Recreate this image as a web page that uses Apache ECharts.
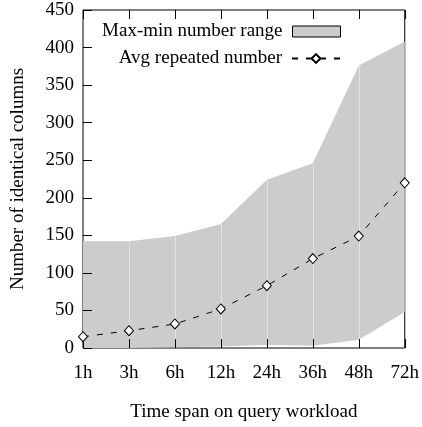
<!DOCTYPE html>
<html>
<head>
<meta charset="utf-8">
<script src="https://cdn.jsdelivr.net/npm/echarts@6/dist/echarts.min.js"></script>
<style>html,body{margin:0;padding:0;background:#fff}#c{width:422px;height:427px}</style>
</head>
<body>
<div id="c"></div>
<script>
var categories = ['1h', '3h', '6h', '12h', '24h', '36h', '48h', '72h'];
var maxVals = [142, 142, 149, 165, 224, 246, 376, 408];
var minVals = [0, 0, 1, 2, 4, 3, 11, 48];
var avgVals = [15, 23, 32, 52, 83, 119, 149, 220];
var yTicks = [0, 50, 100, 150, 200, 250, 300, 350, 400, 450];

var rangeVals = maxVals.map(function (v, i) { return v - minVals[i]; });
var seams = [];
for (var i = 1; i < categories.length - 1; i++) {
  seams.push([{ coord: [categories[i], minVals[i]] }, { coord: [categories[i], maxVals[i]] }]);
}
var FONT = '"Liberation Serif", "Times New Roman", serif';

var chart = echarts.init(document.getElementById('c'), null, { renderer: 'canvas' });
chart.setOption({
  animation: false,
  backgroundColor: '#fff',
  textStyle: { fontFamily: FONT, color: '#000' },
  grid: { left: 83, right: 15, top: 10, bottom: 77, show: true, borderColor: '#000', borderWidth: 1, backgroundColor: 'transparent' },
  legend: [{
    right: 76, top: 17, align: 'right', itemWidth: 48, itemHeight: 11, itemGap: 8,
    textStyle: { fontFamily: FONT, fontSize: 19, color: '#000', padding: [0, 5, 0, 0] },
    data: [{ name: 'Max-min number range', icon: 'rect', itemStyle: { color: '#cccccc', borderColor: '#000', borderWidth: 1 } }]
  }, {
    right: 76, top: 44, align: 'right', itemWidth: 48, itemHeight: 11,
    textStyle: { fontFamily: FONT, fontSize: 19, color: '#000', padding: [0, 5, 0, 0] },
    data: ['Avg repeated number']
  }],
  xAxis: [{
    type: 'category', data: categories, boundaryGap: false, z: 5,
    name: 'Time span on query workload', nameLocation: 'middle', nameGap: 55,
    nameTextStyle: { fontFamily: FONT, fontSize: 19, color: '#000' },
    axisLine: { show: false },
    axisTick: { show: true, inside: true, length: 9, lineStyle: { color: '#000' } },
    axisLabel: { fontFamily: FONT, fontSize: 19, color: '#000', margin: 16 },
    splitLine: { show: false }
  }, {
    type: 'category', data: categories, boundaryGap: false, position: 'top', z: 5,
    axisLine: { show: false },
    axisTick: { show: true, inside: true, length: 9, lineStyle: { color: '#000' } },
    axisLabel: { show: false }, splitLine: { show: false }
  }],
  yAxis: {
    type: 'value', min: 0, max: 450, interval: 50, z: 5,
    name: 'Number of identical columns', nameLocation: 'middle', nameGap: 55, nameRotate: 90,
    nameTextStyle: { fontFamily: FONT, fontSize: 19, color: '#000' },
    axisLine: { show: false },
    axisTick: { show: true, inside: true, length: 9, lineStyle: { color: '#000' } },
    axisLabel: { fontFamily: FONT, fontSize: 19, color: '#000', margin: 9 },
    splitLine: { show: false }
  },
  series: [{
    name: 'minBase', type: 'line', stack: 'range', data: minVals, symbol: 'none',
    lineStyle: { opacity: 0 }, areaStyle: { opacity: 0 }, silent: true
  }, {
    name: 'Max-min number range', type: 'line', stack: 'range', data: rangeVals, symbol: 'none',
    lineStyle: { opacity: 0 }, areaStyle: { color: '#cccccc', opacity: 1 },
    itemStyle: { color: '#cccccc' },
    markLine: {
      silent: true, symbol: ['none', 'none'], label: { show: false },
      lineStyle: { color: '#e2e2e2', width: 1, type: 'solid' },
      data: seams
    }
  }, {
    name: 'Avg repeated number', type: 'line', data: avgVals, z: 10,
    symbol: 'diamond', symbolSize: [9, 10], showAllSymbol: true,
    itemStyle: { color: '#fff', borderColor: '#000', borderWidth: 1 },
    lineStyle: { color: '#000', width: 1, type: [6, 8] }
  }]
});
</script>
</body>
</html>
